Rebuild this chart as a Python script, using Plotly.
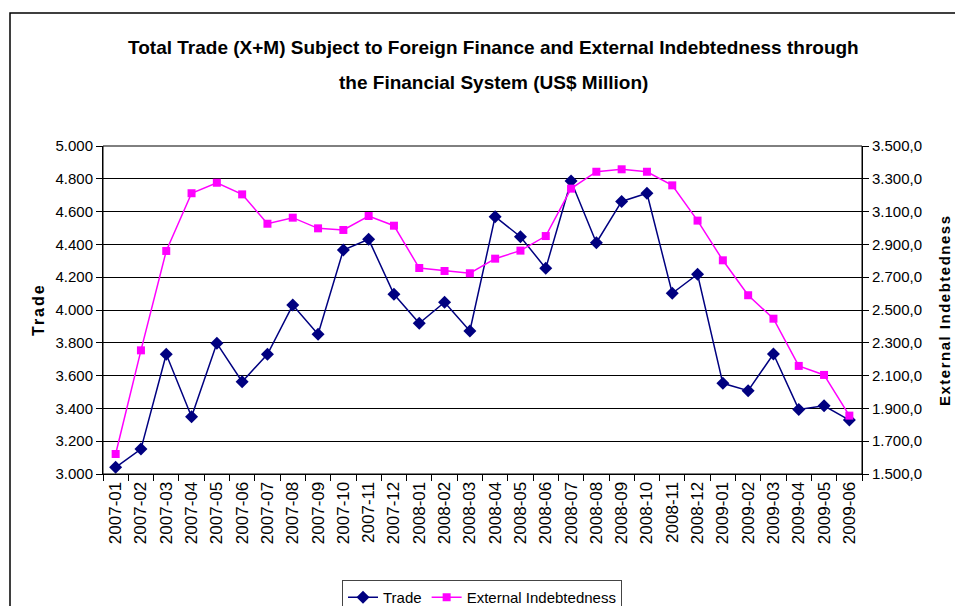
import plotly.graph_objects as go

months = ["2007-01","2007-02","2007-03","2007-04","2007-05","2007-06","2007-07","2007-08","2007-09","2007-10","2007-11","2007-12",
          "2008-01","2008-02","2008-03","2008-04","2008-05","2008-06","2008-07","2008-08","2008-09","2008-10","2008-11","2008-12",
          "2009-01","2009-02","2009-03","2009-04","2009-05","2009-06"]
trade = [3041, 3152, 3730, 3349, 3797, 3563, 3730, 4030, 3852, 4366, 4431, 4096,
         3919, 4047, 3872, 4569, 4447, 4254, 4787, 4410, 4662, 4712, 4102, 4218,
         3553, 3508, 3732, 3394, 3416, 3329]
external = [1622, 2254, 2860, 3212, 3276, 3205, 3026, 3063, 2998, 2988, 3073, 3014,
            2756, 2738, 2724, 2813, 2862, 2951, 3240, 3343, 3358, 3343, 3260, 3045,
            2803, 2590, 2447, 2159, 2104, 1856]

left_ticks = [3000, 3200, 3400, 3600, 3800, 4000, 4200, 4400, 4600, 4800, 5000]
right_ticks = [1500, 1700, 1900, 2100, 2300, 2500, 2700, 2900, 3100, 3300, 3500]

OFF = 8  # page body margin
W, H = 963 - 2 * OFF, 614 - 2 * OFF
PL, PR, PT, PB = 103, 862, 146, 474  # plot edges in page pixels
ML = PL - OFF
MT = PT - OFF
MR = W - (PR - OFF)
MB = H - (PB - OFF)
PW = PR - PL
PH = PB - PT

FONT = "Liberation Sans, Arial, sans-serif"

def px_x(p):
    return (p - PL) / PW
def px_y(p):
    return (PB - p) / PH

fig = go.Figure()
fig.add_trace(go.Scatter(x=months, y=trade, name="Trade", mode="lines+markers",
                         line=dict(color="#000080", width=1.5),
                         marker=dict(symbol="diamond", size=10, color="#000080")))
fig.add_trace(go.Scatter(x=months, y=external, name="External Indebtedness", mode="lines+markers",
                         yaxis="y2",
                         line=dict(color="#FF00FF", width=1.5),
                         marker=dict(symbol="square", size=8, color="#FF00FF")))

fig.update_layout(
    width=W, height=H,
    margin=dict(l=ML, r=MR, t=MT, b=MB, autoexpand=False),
    paper_bgcolor="white", plot_bgcolor="white",
    separators=",.",
    font=dict(family=FONT, size=15, color="black"),
    showlegend=True,
    legend=dict(orientation="h", x=px_x(482), xanchor="center", y=px_y(580), yanchor="top",
                bordercolor="#444444", borderwidth=1, font=dict(size=15, family=FONT),
                itemwidth=30, tracegroupgap=0),
    xaxis=dict(type="category", tickson="boundaries", ticks="outside", ticklen=6,
               tickcolor="black", showline=True, linecolor="black", linewidth=1,
               tickangle=-90, showgrid=False, tickfont=dict(size=17, family=FONT),
               range=[-0.5, len(months) - 0.5], mirror=False),
    yaxis=dict(range=[3000, 5000], tickvals=left_ticks, tickformat=",.0f",
               ticks="outside", ticklen=6, tickcolor="black",
               showline=True, linecolor="black", linewidth=1,
               showgrid=True, gridcolor="black", gridwidth=1,
               tickfont=dict(size=15, family=FONT), zeroline=False),
    yaxis2=dict(range=[1500, 3500], tickvals=right_ticks, tickformat=",.1f",
                overlaying="y", side="right",
                ticks="outside", ticklen=6, tickcolor="black",
                showline=True, linecolor="black", linewidth=1,
                showgrid=False, tickfont=dict(size=15, family=FONT), zeroline=False),
    shapes=[dict(type="rect", xref="paper", yref="paper",
                 x0=px_x(10), x1=px_x(1000), y0=px_y(700), y1=px_y(13),
                 line=dict(color="black", width=1.5), fillcolor="rgba(0,0,0,0)", layer="below"),
            dict(type="rect", xref="paper", yref="paper", x0=0, x1=1, y0=0, y1=1,
                 line=dict(color="black", width=1), fillcolor="rgba(0,0,0,0)")],
    annotations=[
        dict(text="<b>Total Trade (X+M) Subject to Foreign Finance and External Indebtedness through</b>",
             xref="paper", yref="paper", x=px_x(493), y=px_y(48), showarrow=False,
             xanchor="center", yanchor="middle", font=dict(size=19, family=FONT)),
        dict(text="<b>the Financial System (US$ Million)</b>",
             xref="paper", yref="paper", x=px_x(493), y=px_y(82), showarrow=False,
             xanchor="center", yanchor="middle", font=dict(size=19, family=FONT)),
        dict(text="<span style='letter-spacing:2px'><b>Trade</b></span>", xref="paper", yref="paper",
             x=px_x(38), y=px_y(310),
             showarrow=False, textangle=-90, xanchor="center", yanchor="middle",
             font=dict(size=16, family=FONT)),
        dict(text="<span style='letter-spacing:1.5px'><b>External Indebtedness</b></span>", xref="paper", yref="paper",
             x=px_x(944), y=px_y(310),
             showarrow=False, textangle=-90, xanchor="center", yanchor="middle",
             font=dict(size=15, family=FONT)),
    ],
)

fig.write_html("out.html")
